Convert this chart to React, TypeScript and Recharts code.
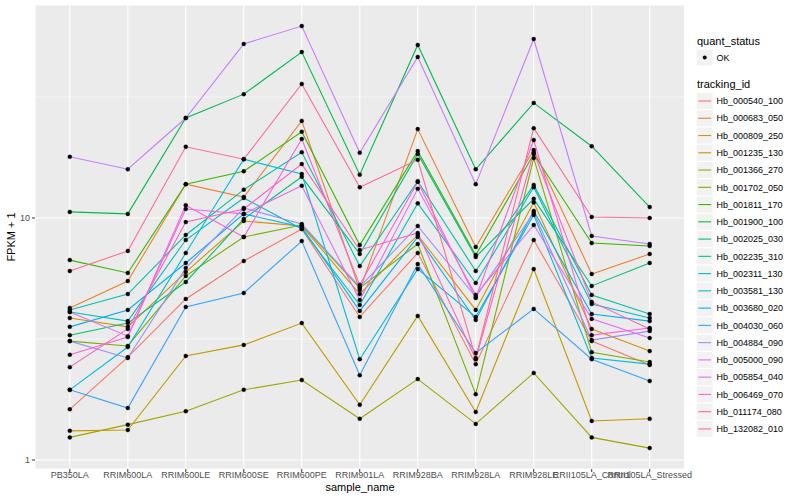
import { LineChart, Line, XAxis, YAxis, CartesianGrid } from "recharts";

const samples = [
  "PB350LA",
  "RRIM600LA",
  "RRIM600LE",
  "RRIM600SE",
  "RRIM600PE",
  "RRIM901LA",
  "RRIM928BA",
  "RRIM928LA",
  "RRIM928LE",
  "RRII105LA_Control",
  "RRII105LA_Stressed",
];

// FPKM + 1 per sample
const hb_000540_100 = [1.62, 2.66, 4.63, 6.64, 9.01, 3.9, 7.17, 2.49, 8.11, 3.1, 2.47];
const hb_000683_050 = [4.25, 5.49, 13.8, 12.2, 25.2, 5.04, 23.3, 7.59, 19.1, 5.87, 7.1];
const hb_000809_250 = [3.86, 3.55, 5.98, 9.72, 9.27, 4.85, 8.51, 4.17, 11.6, 3.48, 2.82];
const hb_001235_130 = [1.32, 1.33, 2.69, 2.99, 3.68, 1.69, 3.94, 1.58, 6.15, 1.45, 1.48];
const hb_001366_270 = [1.24, 1.4, 1.59, 1.95, 2.14, 1.48, 2.16, 1.41, 2.29, 1.24, 1.12];
const hb_001702_050 = [3.1, 2.96, 5.76, 8.35, 9.35, 5.14, 7.81, 1.87, 17.7, 2.79, 2.54];
const hb_001811_170 = [6.7, 5.93, 13.8, 15.6, 22.7, 7.73, 18.9, 7.03, 18.4, 7.88, 7.66];
const hb_001900_100 = [10.6, 10.4, 25.9, 32.5, 48.5, 15.1, 51.9, 15.9, 29.9, 19.8, 11.1];
const hb_002025_030 = [3.28, 3.68, 5.44, 9.91, 14.8, 7.1, 18.4, 6.9, 12.0, 5.24, 6.52];
const hb_002235_310 = [4.17, 4.85, 8.51, 13.1, 18.7, 6.33, 14.2, 6.04, 13.7, 4.81, 4.01];
const hb_002311_130 = [4.09, 3.75, 8.11, 12.1, 9.01, 4.37, 11.5, 5.39, 13.4, 4.41, 3.86];
const hb_003581_130 = [1.95, 2.93, 7.17, 17.5, 15.2, 2.61, 6.15, 3.9, 10.3, 2.64, 2.49];
const hb_003680_020 = [3.55, 4.17, 6.52, 10.4, 9.18, 4.13, 8.35, 3.79, 10.7, 4.01, 3.75];
const hb_004030_060 = [1.95, 1.64, 4.29, 4.9, 8.03, 2.24, 6.45, 2.77, 4.21, 2.61, 2.12];
const hb_004884_090 = [3.1, 2.64, 6.21, 11.0, 9.44, 5.19, 9.27, 4.72, 10.5, 3.13, 3.41];
const hb_005000_090 = [17.9, 15.9, 25.9, 52.4, 62.1, 18.6, 46.3, 13.8, 54.9, 8.43, 7.81];
const hb_005854_040 = [4.09, 3.25, 10.9, 10.4, 13.6, 4.58, 13.2, 4.81, 9.35, 3.83, 3.19];
const hb_006469_070 = [2.72, 3.22, 11.3, 8.35, 21.2, 5.29, 14.1, 4.67, 21.0, 3.28, 3.51];
const hb_011174_080 = [2.42, 3.48, 9.62, 10.9, 16.7, 7.38, 8.67, 2.61, 18.7, 4.5, 3.48];
const hb_132082_010 = [6.04, 7.31, 19.7, 17.5, 35.8, 13.4, 17.4, 2.64, 23.5, 10.1, 10.0];

const trackingIds = [
  "Hb_000540_100", "Hb_000683_050", "Hb_000809_250", "Hb_001235_130", "Hb_001366_270",
  "Hb_001702_050", "Hb_001811_170", "Hb_001900_100", "Hb_002025_030", "Hb_002235_310",
  "Hb_002311_130", "Hb_003581_130", "Hb_003680_020", "Hb_004030_060", "Hb_004884_090",
  "Hb_005000_090", "Hb_005854_040", "Hb_006469_070", "Hb_011174_080", "Hb_132082_010",
];

const seriesValues = [
  hb_000540_100, hb_000683_050, hb_000809_250, hb_001235_130, hb_001366_270,
  hb_001702_050, hb_001811_170, hb_001900_100, hb_002025_030, hb_002235_310,
  hb_002311_130, hb_003581_130, hb_003680_020, hb_004030_060, hb_004884_090,
  hb_005000_090, hb_005854_040, hb_006469_070, hb_011174_080, hb_132082_010,
];

const colors = [
  "#F8766D", "#EA8331", "#D89000", "#C09B00", "#A3A500", "#7CAE00", "#39B600", "#00BB4E",
  "#00BF7D", "#00C1A3", "#00BFC4", "#00BAE0", "#00B0F6", "#35A2FF", "#9590FF", "#C77CFF",
  "#E76BF3", "#FA62DB", "#FF62BC", "#FF6C91",
];

const yTicks = [1, 10];

const data = samples.map((s, i) => {
  const row: Record<string, string | number> = { sample_name: s };
  trackingIds.forEach((id, k) => {
    row[id] = seriesValues[k][i];
  });
  return row;
});

const font = "'Liberation Sans', Arial, Helvetica, sans-serif";

export default function App() {
  return (
    <div style={{ position: "absolute", left: 0, top: 0, width: 800, height: 500, background: "#fff", fontFamily: font }}>
      <LineChart width={800} height={500} data={data} margin={{ top: 5, right: 115.5, bottom: 0, left: 0 }}>
        <CartesianGrid fill="#EBEBEB" stroke="#fff" strokeWidth={1.1} />
        <CartesianGrid horizontalValues={[Math.sqrt(10), Math.sqrt(1000)]} vertical={false} stroke="#fff" strokeWidth={0.55} />
        <XAxis
          dataKey="sample_name"
          interval={0}
          height={31}
          padding={{ left: 34.8, right: 34.8 }}
          axisLine={false}
          tickSize={3}
          tickMargin={0}
          tickLine={{ stroke: "#333", strokeWidth: 1 }}
          tick={{ fill: "#4D4D4D", fontSize: 9, fontFamily: font }}
        />
        <YAxis
          type="number"
          scale="log"
          domain={[0.918, 75.9]}
          ticks={yTicks}
          allowDataOverflow
          width={35}
          axisLine={false}
          tickSize={3}
          tickLine={{ stroke: "#333", strokeWidth: 1 }}
          tick={{ fill: "#4D4D4D", fontSize: 9, fontFamily: font }}
        />
        {trackingIds.map((id, k) => (
          <Line key={id} type="linear" dataKey={id} stroke={colors[k]} strokeWidth={1.1} dot={false} activeDot={false} isAnimationActive={false} />
        ))}
        {trackingIds.map((id) => (
          <Line
            key={id + "_pt"}
            type="linear"
            dataKey={id}
            stroke="none"
            legendType="none"
            dot={{ r: 2, fill: "#000", stroke: "#000", strokeWidth: 0.4 }}
            activeDot={false}
            isAnimationActive={false}
          />
        ))}
      </LineChart>
      <svg width={800} height={500} style={{ position: "absolute", left: 0, top: 0, pointerEvents: "none" }} fontFamily={font}>
        <text x={360} y={491} textAnchor="middle" fontSize={11} fill="#000">sample_name</text>
        <text x={15} y={237} textAnchor="middle" fontSize={11} fill="#000" transform="rotate(-90, 15, 237)">FPKM + 1</text>
        <text x={697} y={44.5} fontSize={11} fill="#000">quant_status</text>
        <rect x={696.7} y={49.5} width={16} height={16} fill="#F2F2F2" />
        <circle cx={704.7} cy={57.5} r={2} fill="#000" />
        <text x={716.5} y={60.7} fontSize={9} fill="#000">OK</text>
        <text x={697} y={88} fontSize={11} fill="#000">tracking_id</text>
        {trackingIds.map((id, k) => {
          const cy = 101 + 17.26 * k;
          return (
            <g key={id}>
              <rect x={696.7} y={cy - 8} width={16} height={16} fill="#F2F2F2" />
              <line x1={698.3} x2={711.1} y1={cy} y2={cy} stroke={colors[k]} strokeWidth={1.1} />
              <text x={716.5} y={cy + 3.2} fontSize={9} fill="#000">{id}</text>
            </g>
          );
        })}
      </svg>
    </div>
  );
}
